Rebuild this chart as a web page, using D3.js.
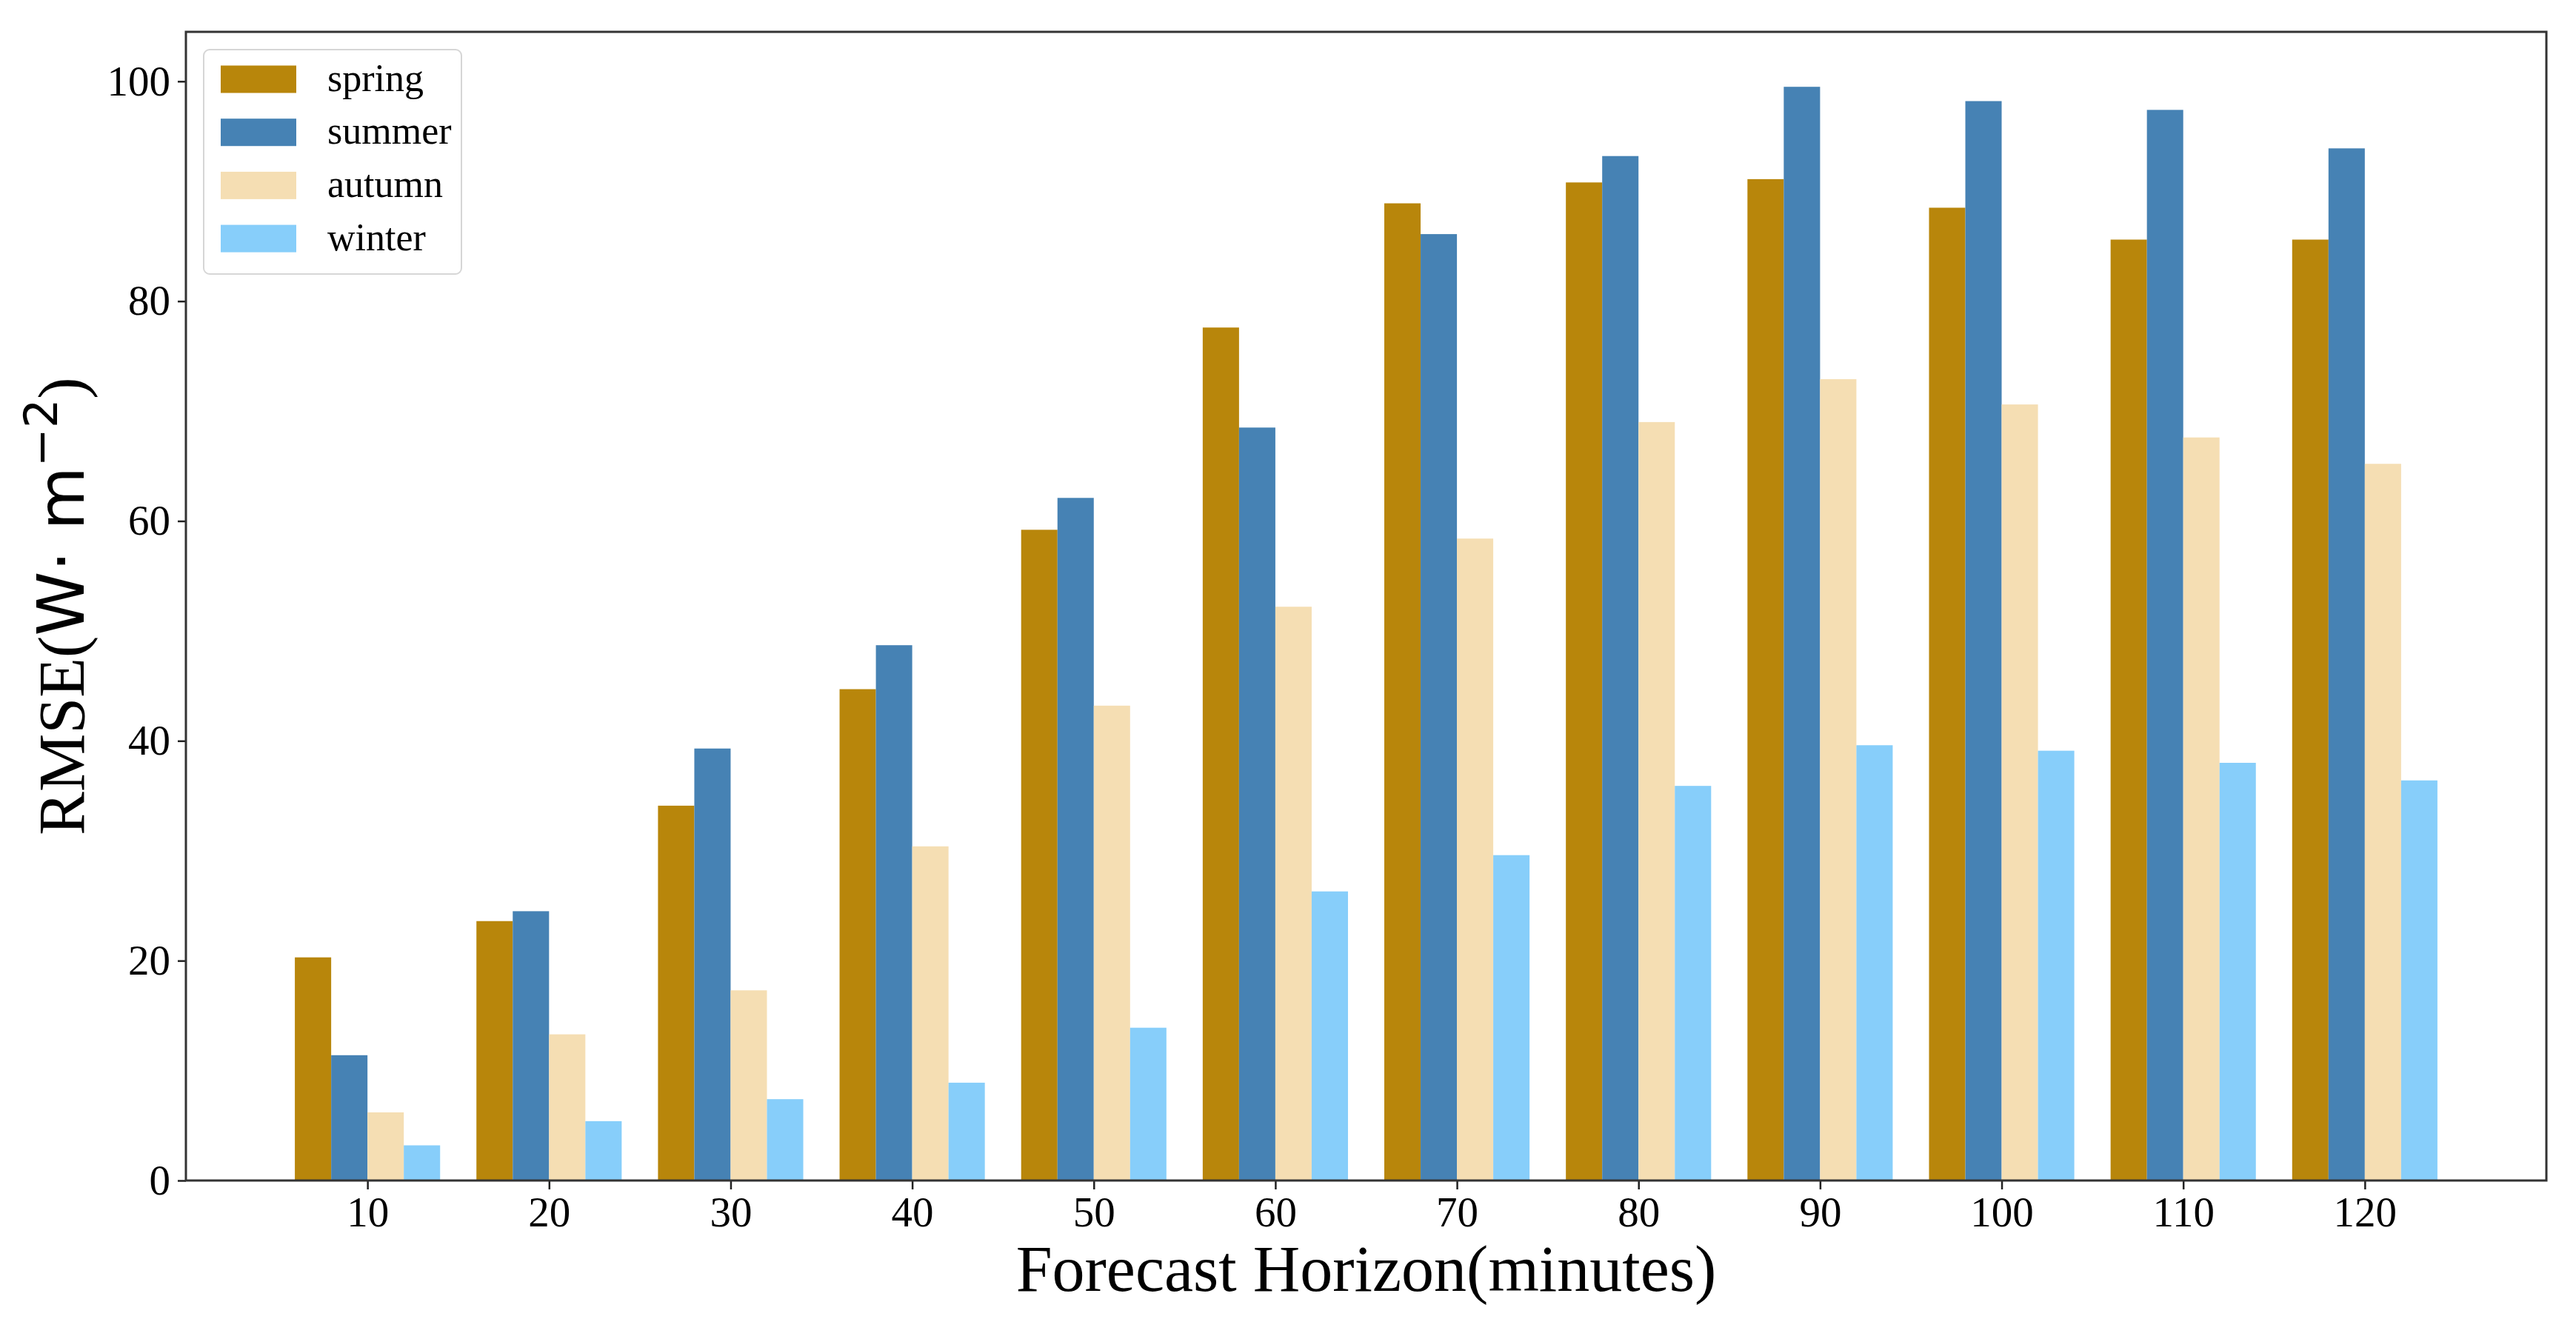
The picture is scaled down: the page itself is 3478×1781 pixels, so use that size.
<!DOCTYPE html>
<html>
<head>
<meta charset="utf-8">
<script src="https://cdn.jsdelivr.net/npm/d3@7/dist/d3.min.js"></script>
<style>
  body { margin: 0; background: #fff; }
  text { font-family: "Liberation Serif", "Times New Roman", serif; fill: #000; }
</style>
</head>
<body>
<div id="chart"></div>
<script>
// forecast horizons (minutes)
var horizons = [10, 20, 30, 40, 50, 60, 70, 80, 90, 100, 110, 120];
var seasons = ["spring", "summer", "autumn", "winter"];
var colors = ["#B8860B", "#4682B4", "#F5DEB3", "#87CEFA"];

var spring = [20.3, 23.6, 34.1, 44.7, 59.2, 77.6, 88.9, 90.8, 91.1, 88.5, 85.6, 85.6];
var summer = [11.4, 24.5, 39.3, 48.7, 62.1, 68.5, 86.1, 93.2, 99.5, 98.2, 97.4, 93.9];
var autumn = [6.2, 13.3, 17.3, 30.4, 43.2, 52.2, 58.4, 69.0, 72.9, 70.6, 67.6, 65.2];
var winter = [3.2, 5.4, 7.4, 8.9, 13.9, 26.3, 29.6, 35.9, 39.6, 39.1, 38.0, 36.4];
var yTicks = [0, 20, 40, 60, 80, 100];

var series = [spring, summer, autumn, winter];

var width = 3478, height = 1781;
var margin = {left: 251, right: 40, top: 43, bottom: 187};

var svg = d3.select("#chart").append("svg")
    .attr("width", width)
    .attr("height", height);

var x = d3.scaleLinear()
    .domain([-1, horizons.length])
    .range([margin.left, width - margin.right]);
var y = d3.scaleLinear()
    .domain([0, 104.5])
    .range([height - margin.bottom, margin.top]);

var barW = x(0.2) - x(0);

// bars
series.forEach(function(vals, s) {
    svg.append("g")
        .selectAll("rect")
        .data(vals)
        .enter()
        .append("rect")
        .attr("x", function(d, i) { return x(i - 0.4 + 0.2 * s); })
        .attr("y", function(d) { return y(d); })
        .attr("width", barW)
        .attr("height", function(d) { return y(0) - y(d); })
        .attr("fill", colors[s]);
});

// axes
var xAxis = d3.axisBottom(x)
    .tickValues(d3.range(horizons.length))
    .tickFormat(function(i) { return horizons[i]; })
    .tickSize(12)
    .tickPadding(10);
var yAxis = d3.axisLeft(y)
    .tickValues(yTicks)
    .tickSize(11)
    .tickPadding(10);

var gx = svg.append("g")
    .attr("transform", "translate(0," + y(0) + ")")
    .call(xAxis);
var gy = svg.append("g")
    .attr("transform", "translate(" + x(-1) + ",0)")
    .call(yAxis);

[gx, gy].forEach(function(g) {
    g.select(".domain").remove();
    g.selectAll(".tick line").attr("stroke", "#222").attr("stroke-width", 2.5);
    g.selectAll(".tick text")
        .style("font-family", "'Liberation Serif', 'Times New Roman', serif")
        .style("font-size", "57px");
});

// frame
svg.append("rect")
    .attr("x", x(-1))
    .attr("y", y(104.5))
    .attr("width", x(horizons.length) - x(-1))
    .attr("height", y(0) - y(104.5))
    .attr("fill", "none")
    .attr("stroke", "#333")
    .attr("stroke-width", 3);

// axis labels
svg.append("text")
    .attr("x", (x(-1) + x(horizons.length)) / 2)
    .attr("y", 1743)
    .attr("text-anchor", "middle")
    .style("font-size", "88px")
    .text("Forecast Horizon(minutes)");

var yl = svg.append("text")
    .attr("transform", "translate(113," + ((y(0) + y(104.5)) / 2) + ") rotate(-90)")
    .attr("text-anchor", "middle")
    .style("font-size", "88px");
yl.append("tspan").text("RMSE(");
yl.append("tspan").style("font-family", "'DejaVu Sans', sans-serif").text("W\u00B7 m");
yl.append("tspan").style("font-family", "'DejaVu Sans', sans-serif")
    .style("font-size", "62px").attr("dy", -36).text("\u22122");
yl.append("tspan").attr("dy", 36).text(")");

// legend
var lg = svg.append("g");
lg.append("rect")
    .attr("x", 275).attr("y", 67)
    .attr("width", 348).attr("height", 303)
    .attr("rx", 8)
    .attr("fill", "#fff")
    .attr("fill-opacity", 0.8)
    .attr("stroke", "#d6d6d6")
    .attr("stroke-width", 2);

var items = lg.selectAll("g.item")
    .data(seasons)
    .enter()
    .append("g")
    .attr("transform", function(d, i) { return "translate(0," + (107 + i * 71.7) + ")"; });
items.append("rect")
    .attr("x", 298).attr("y", -18.5)
    .attr("width", 102).attr("height", 37)
    .attr("fill", function(d, i) { return colors[i]; });
items.append("text")
    .attr("x", 442)
    .attr("dy", "0.3em")
    .style("font-size", "52px")
    .text(function(d) { return d; });
</script>
</body>
</html>
